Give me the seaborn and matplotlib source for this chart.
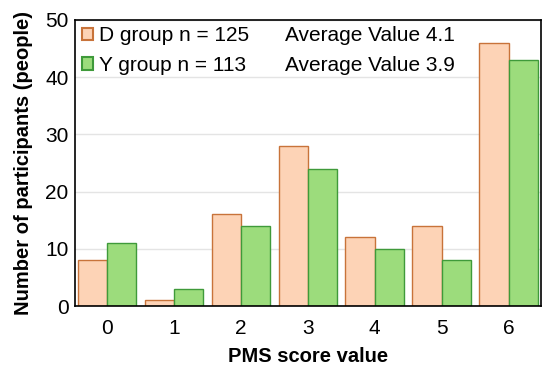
import pandas as pd
import matplotlib.pyplot as plt
import seaborn as sns
from matplotlib.patches import Patch

scores = [0, 1, 2, 3, 4, 5, 6]
d_group = [8, 1, 16, 28, 12, 14, 46]
y_group = [11, 3, 14, 24, 10, 8, 43]
groups = ['D group n = 125', 'Y group n = 113']
averages = ['Average Value 4.1', 'Average Value 3.9']

df = pd.DataFrame({
    'score': scores * 2,
    'count': d_group + y_group,
    'group': [groups[0]] * len(scores) + [groups[1]] * len(scores),
})

sns.set_style('white')
plt.rcParams['font.family'] = ['Liberation Sans', 'DejaVu Sans']
plt.rcParams['text.color'] = 'black'
plt.rcParams['axes.labelcolor'] = 'black'
plt.rcParams['xtick.color'] = 'black'
plt.rcParams['ytick.color'] = 'black'

fills = ['#fdd3b6', '#9cdc7c']
edges = ['#c8733a', '#3f9a3a']

fig = plt.figure(figsize=(5.5, 3.72), dpi=100)
ax = fig.add_axes([0.137, 0.177, 0.846, 0.77])
sns.barplot(data=df, x='score', y='count', hue='group', palette=fills,
            saturation=1, width=0.87, ax=ax, legend=False, zorder=2)

# edge colours per group
n = len(scores)
for i, bar in enumerate(ax.patches[:2 * n]):
    bar.set_edgecolor(edges[i // n])
    bar.set_linewidth(1.0)

ax.set_ylim(0, 50)
ax.set_xlim(-0.47, 6.48)
ax.set_yticks(range(0, 51, 10))
ax.yaxis.grid(True, color='#e4e4e4', lw=1, zorder=0)
ax.set_axisbelow(True)
for s in ax.spines.values():
    s.set_color('black')
    s.set_linewidth(1.2)
ax.tick_params(axis='x', labelsize=15, length=0, pad=9)
ax.tick_params(axis='y', labelsize=15, length=0, pad=5)
ax.set_xlabel('PMS score value', fontsize=14.5, fontweight='bold', labelpad=7)
ax.set_ylabel('Number of participants (people)', fontsize=14.5, fontweight='bold', labelpad=9)

handles = [Patch(facecolor=fills[i], edgecolor=edges[i], lw=1.5) for i in range(2)]
leg = ax.legend(handles, groups, loc='upper left', bbox_to_anchor=(-0.022, 1.035),
                frameon=False, fontsize=15, handlelength=0.55, handleheight=0.55,
                handletextpad=0.3, labelspacing=0.5, borderpad=0.3)
for i, txt in enumerate(averages):
    ax.text(0.45, 0.945 - i * 0.105, txt, transform=ax.transAxes,
            fontsize=15, va='center', ha='left')

fig.savefig('out.png', dpi=100)
